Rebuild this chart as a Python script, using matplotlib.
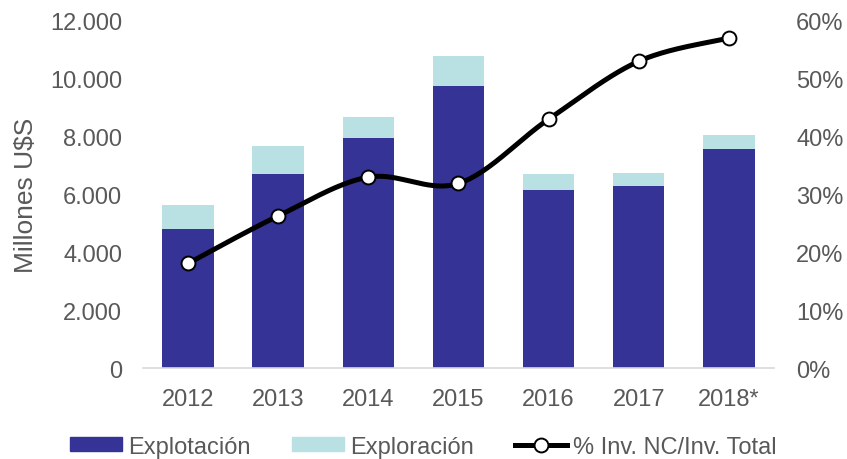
import numpy as np
import matplotlib
matplotlib.use("Agg")
import matplotlib.pyplot as plt
from matplotlib.ticker import FuncFormatter
from matplotlib.lines import Line2D
from matplotlib.patches import Patch

years = ["2012", "2013", "2014", "2015", "2016", "2017", "2018*"]
explotacion = [4820, 6700, 7950, 9760, 6140, 6280, 7570]
exploracion = [820, 970, 740, 1010, 570, 450, 490]
pct_nc = [18.1, 26.3, 33.0, 31.9, 43.0, 53.0, 57.0]

DARK = "#353395"
LIGHT = "#b9e0e3"
GRAY = "#595959"

plt.rcParams["font.family"] = ["Liberation Sans", "DejaVu Sans"]
FS = 17

fig = plt.figure(figsize=(8.47, 4.60), dpi=100)
ax = fig.add_axes([0.1688, 0.1972, 0.745, 0.7556])
x = np.arange(len(years))
w = 0.57
ax.bar(x, explotacion, w, color=DARK, zorder=2)
ax.bar(x, exploracion, w, bottom=explotacion, color=LIGHT, zorder=2)
ax.set_xlim(-0.5, len(years) - 0.5)
ax.set_ylim(0, 12000)
ax.set_yticks(np.arange(0, 12001, 2000))
ax.yaxis.set_major_formatter(FuncFormatter(lambda v, p: f"{int(v):,}".replace(",", ".")))
ax.set_xticks(x)
ax.set_xticklabels(years)
for s in ["top", "left", "right"]:
    ax.spines[s].set_visible(False)
ax.spines["bottom"].set_color("#d9d9d9")
ax.spines["bottom"].set_linewidth(1.2)
ax.tick_params(axis="both", length=0, labelsize=FS, colors=GRAY)
ax.tick_params(axis="y", pad=15)
ax.tick_params(axis="x", pad=14)
ax.set_ylabel("Millones U$S", fontsize=19, color=GRAY, labelpad=9)

ax2 = ax.twinx()
ax2.set_ylim(0, 60)
ax2.set_yticks(np.arange(0, 61, 10))
ax2.yaxis.set_major_formatter(FuncFormatter(lambda v, p: f"{int(v)}%"))
for s in ["top", "left", "right", "bottom"]:
    ax2.spines[s].set_visible(False)
ax2.tick_params(axis="y", length=0, labelsize=FS, colors=GRAY, pad=16)

# Catmull-Rom smoothing (Excel-like smoothed line)
px = x.astype(float)
py = np.array(pct_nc, dtype=float)
P = np.column_stack([px, py])
P = np.vstack([P[0], P, P[-1]])
sx, sy = [], []
t = np.linspace(0, 1, 40)
for i in range(1, len(P) - 2):
    p0, p1, p2, p3 = P[i - 1], P[i], P[i + 1], P[i + 2]
    for tt in t:
        pt = 0.5 * ((2 * p1) + (-p0 + p2) * tt + (2 * p0 - 5 * p1 + 4 * p2 - p3) * tt**2
                    + (-p0 + 3 * p1 - 3 * p2 + p3) * tt**3)
        sx.append(pt[0]); sy.append(pt[1])
ax2.plot(sx, sy, color="black", lw=3.6, zorder=3, solid_capstyle="round")
ax2.plot(px, py, linestyle="none", marker="o", ms=10, mfc="white", mec="black", mew=1.4, zorder=4)

handles = [Patch(color=DARK), Patch(color=LIGHT),
           Line2D([0], [0], color="black", lw=3.6, marker="o", ms=10, mfc="white", mec="black", mew=1.4)]
labels = ["Explotación", "Exploración", "% Inv. NC/Inv. Total"]
leg = fig.legend(handles, labels, loc="center", bbox_to_anchor=(0.5, 0.027), ncol=3, frameon=False,
                 fontsize=FS, handlelength=2.2, handleheight=0.55, handletextpad=0.25, columnspacing=1.75,
                 borderaxespad=0, borderpad=0)
for t_ in leg.get_texts():
    t_.set_color(GRAY)

fig.savefig("out.png", dpi=100)
